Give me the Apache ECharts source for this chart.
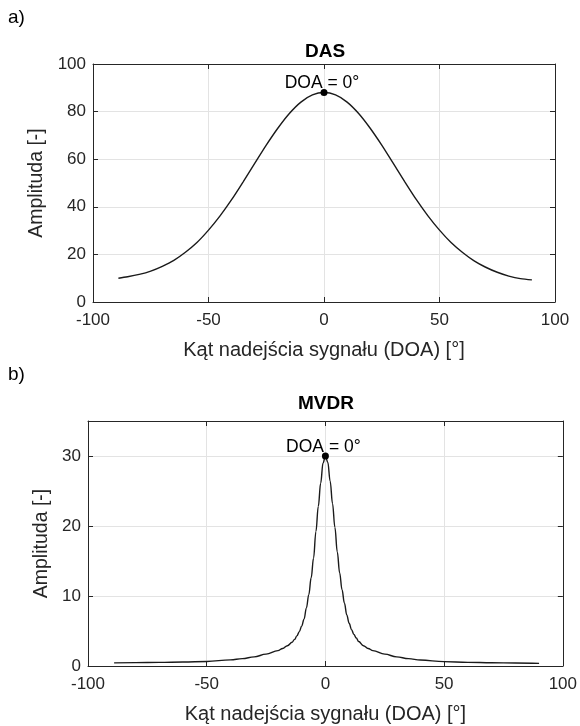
<!DOCTYPE html>
<html>
<head>
<meta charset="utf-8">
<script src="https://cdn.jsdelivr.net/npm/echarts@6/dist/echarts.min.js"></script>
<style>
  html, body { margin: 0; padding: 0; background: #fff; }
  #chart { width: 580px; height: 726px; }
</style>
</head>
<body>
<div id="chart"></div>
<script>
// DAS - kat [deg] i amplituda
var dasAngles = [-89, -85, -80, -75, -70, -65, -60, -55, -50, -45, -40, -35, -30, -25, -20, -15, -10, -5, 0,
    5, 10, 15, 20, 25, 30, 35, 40, 45, 50, 55, 60, 65, 70, 75, 80, 85, 90];
var dasValues = [10.0, 10.6, 11.6, 13.0, 15.0, 17.5, 20.9, 25.0, 30.2, 36.2, 43.0, 50.5, 58.2, 65.9, 73.0, 79.2, 84.0, 87.0, 88.0,
    87.0, 84.0, 79.2, 73.0, 65.9, 58.2, 50.5, 43.0, 36.2, 30.2, 25.0, 20.8, 17.3, 14.6, 12.5, 10.9, 9.8, 9.3];

// MVDR
var mvdrAngles = [-89, -80, -70, -60, -50, -40, -35, -30, -25, -20, -18, -16, -14, -13, -12, -11, -10, -9, -8, -7, -6, -5, -4, -3, -2, -1, 0,
    1, 2, 3, 4, 5, 6, 7, 8, 9, 10, 11, 12, 13, 14, 16, 18, 20, 25, 30, 35, 40, 50, 60, 70, 80, 90];
var mvdrValues = [0.45, 0.48, 0.52, 0.57, 0.65, 0.88, 1.05, 1.3, 1.7, 2.2, 2.5, 2.9, 3.4, 3.8, 4.3, 4.9, 5.7, 6.7, 8.3, 10.2, 12.6, 15.4, 19.2, 22.8, 26.1, 29.0, 30.0,
    29.1, 26.4, 23.2, 19.8, 16.3, 13.3, 10.9, 9.0, 7.3, 6.1, 5.2, 4.5, 4.0, 3.5, 2.9, 2.5, 2.2, 1.7, 1.3, 1.05, 0.85, 0.62, 0.52, 0.46, 0.42, 0.38];

var peakDas = [0, 88];
var peakMvdr = [0, 30];

var xTicks = [-100, 50, 100];   // min, interval, max
var dasYTicks = [0, 20, 100];
var mvdrYTicks = [0, 10, 35];

var xName = 'Kąt nadejścia sygnału (DOA) [°]';
var yName = 'Amplituda [-]';

var FONT = "'Liberation Sans', Arial, sans-serif";
var TXT = '#262626';

function zip(a, b) {
    var out = [];
    for (var i = 0; i < a.length; i++) out.push([a[i], b[i]]);
    return out;
}

function mainX(grid, gap) {
    return {
        type: 'value', gridIndex: grid, min: xTicks[0], interval: xTicks[1], max: xTicks[2],
        name: xName, nameLocation: 'middle', nameGap: gap,
        nameTextStyle: { fontFamily: FONT, fontSize: 20, color: TXT },
        axisLine: { onZero: false, lineStyle: { color: TXT, width: 1 } },
        axisTick: { inside: true, length: 5, lineStyle: { color: TXT } },
        axisLabel: { fontFamily: FONT, fontSize: 17, color: TXT, margin: 10 },
        splitLine: { show: true, lineStyle: { color: '#e3e3e3', width: 1 } }
    };
}
function topX(grid) {
    return {
        type: 'value', gridIndex: grid, position: 'top', min: xTicks[0], interval: xTicks[1], max: xTicks[2],
        axisLine: { onZero: false, lineStyle: { color: TXT, width: 1 } },
        axisTick: { inside: true, length: 5, lineStyle: { color: TXT } },
        axisLabel: { show: false }, splitLine: { show: false }
    };
}
function mainY(grid, ticks, gap) {
    return {
        type: 'value', gridIndex: grid, min: ticks[0], interval: ticks[1], max: ticks[2],
        name: yName, nameLocation: 'middle', nameGap: gap,
        nameTextStyle: { fontFamily: FONT, fontSize: 19.5, color: TXT },
        axisLine: { show: true, onZero: false, lineStyle: { color: TXT, width: 1 } },
        axisTick: { show: true, inside: true, length: 5, lineStyle: { color: TXT } },
        axisLabel: { fontFamily: FONT, fontSize: 17, color: TXT, margin: 7, showMaxLabel: ticks[2] % ticks[1] === 0 },
        splitLine: { show: true, lineStyle: { color: '#e3e3e3', width: 1 } }
    };
}
function rightY(grid, ticks) {
    return {
        type: 'value', gridIndex: grid, position: 'right', min: ticks[0], interval: ticks[1], max: ticks[2],
        axisLine: { show: true, onZero: false, lineStyle: { color: TXT, width: 1 } },
        axisTick: { show: true, inside: true, length: 5, lineStyle: { color: TXT } },
        axisLabel: { show: false }, splitLine: { show: false }
    };
}
function peakSeries(xi, yi, pt, dist) {
    return {
        type: 'scatter', xAxisIndex: xi, yAxisIndex: yi, data: [pt],
        symbol: 'circle', symbolSize: 7, itemStyle: { color: '#000', opacity: 1 },
        label: {
            show: true, position: 'top', distance: dist, offset: [-2, 0], opacity: 1,
            formatter: 'DOA = 0°', fontFamily: FONT, fontSize: 17.5, color: '#000'
        },
        emphasis: { disabled: true },
        z: 5
    };
}

var option = {
    backgroundColor: '#fff',
    animation: false,
    grid: [
        { left: 93, right: 25, top: 64, height: 238 },
        { left: 88, right: 16, top: 421, height: 245 }
    ],
    xAxis: [mainX(0, 38), topX(0), mainX(1, 38), topX(1)],
    yAxis: [mainY(0, dasYTicks, 43), rightY(0, dasYTicks), mainY(1, mvdrYTicks, 36), rightY(1, mvdrYTicks)],
    graphic: [
        { type: 'text', x: 8, y: 18, style: { text: 'a)', font: '19px ' + FONT, fill: '#000', textVerticalAlign: 'middle' } },
        { type: 'text', x: 8, y: 375, style: { text: 'b)', font: '19px ' + FONT, fill: '#000', textVerticalAlign: 'middle' } },
        { type: 'text', x: 325, y: 52, style: { text: 'DAS', font: 'bold 19px ' + FONT, fill: '#000', textAlign: 'center', textVerticalAlign: 'middle' } },
        { type: 'text', x: 326, y: 404, style: { text: 'MVDR', font: 'bold 19px ' + FONT, fill: '#000', textAlign: 'center', textVerticalAlign: 'middle' } }
    ],
    series: [
        {
            type: 'line', xAxisIndex: 0, yAxisIndex: 0, data: zip(dasAngles, dasValues),
            smooth: 0.3, symbol: 'none', lineStyle: { color: '#1a1a1a', width: 1.4 }
        },
        peakSeries(0, 0, peakDas, -3),
        {
            type: 'line', xAxisIndex: 2, yAxisIndex: 2, data: zip(mvdrAngles, mvdrValues),
            smooth: 0.4, smoothMonotone: 'x', symbol: 'none', lineStyle: { color: '#1a1a1a', width: 1.4 }
        },
        peakSeries(2, 2, peakMvdr, -4)
    ]
};

var chart = echarts.init(document.getElementById('chart'));
chart.setOption(option);
</script>
</body>
</html>
